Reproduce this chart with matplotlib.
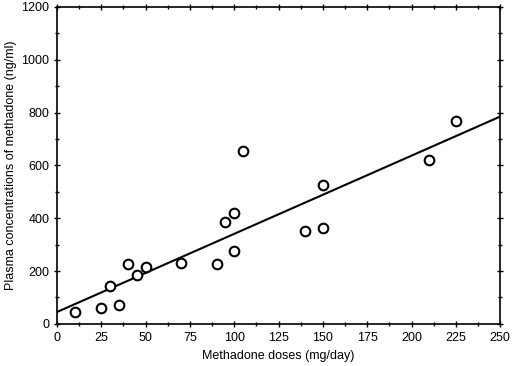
import matplotlib
matplotlib.use("Agg")
import matplotlib.pyplot as plt
import numpy as np
from matplotlib.ticker import MultipleLocator

plt.rcParams['font.family'] = ['Liberation Sans', 'DejaVu Sans']

dose = [10, 25, 30, 35, 40, 45, 50, 70, 90, 95, 100, 100, 105, 140, 150, 150, 210, 225]
conc = [45, 60, 145, 70, 225, 185, 215, 230, 225, 385, 420, 275, 655, 350, 525, 365, 620, 770]
line_x = [0, 250]
line_y = [45, 785]
xticks = [0, 25, 50, 75, 100, 125, 150, 175, 200, 225, 250]
yticks = [0, 200, 400, 600, 800, 1000, 1200]

fig = plt.figure(figsize=(5.13, 3.66), dpi=100)
ax = fig.add_axes([0.111, 0.115, 0.864, 0.866])
ax.plot(line_x, line_y, color='black', lw=1.5)
ax.scatter(dose, conc, s=48, facecolors='white', edgecolors='black', linewidths=1.5, zorder=3)
ax.set_xlim(0, 250)
ax.set_ylim(0, 1200)
ax.set_xticks(xticks)
ax.set_yticks(yticks)
ax.xaxis.set_minor_locator(MultipleLocator(12.5))
ax.yaxis.set_minor_locator(MultipleLocator(100))
ax.tick_params(axis='both', which='both', top=True, right=True, direction='inout', labelsize=9, width=1)
ax.tick_params(which='major', length=4)
ax.tick_params(which='minor', length=3)
for s in ax.spines.values():
    s.set_linewidth(1.2)
ax.set_xlabel('Methadone doses (mg/day)', fontsize=9, labelpad=5)
ax.set_ylabel('Plasma concentrations of methadone (ng/ml)', fontsize=9, labelpad=3)
fig.savefig('out.png', dpi=100)
